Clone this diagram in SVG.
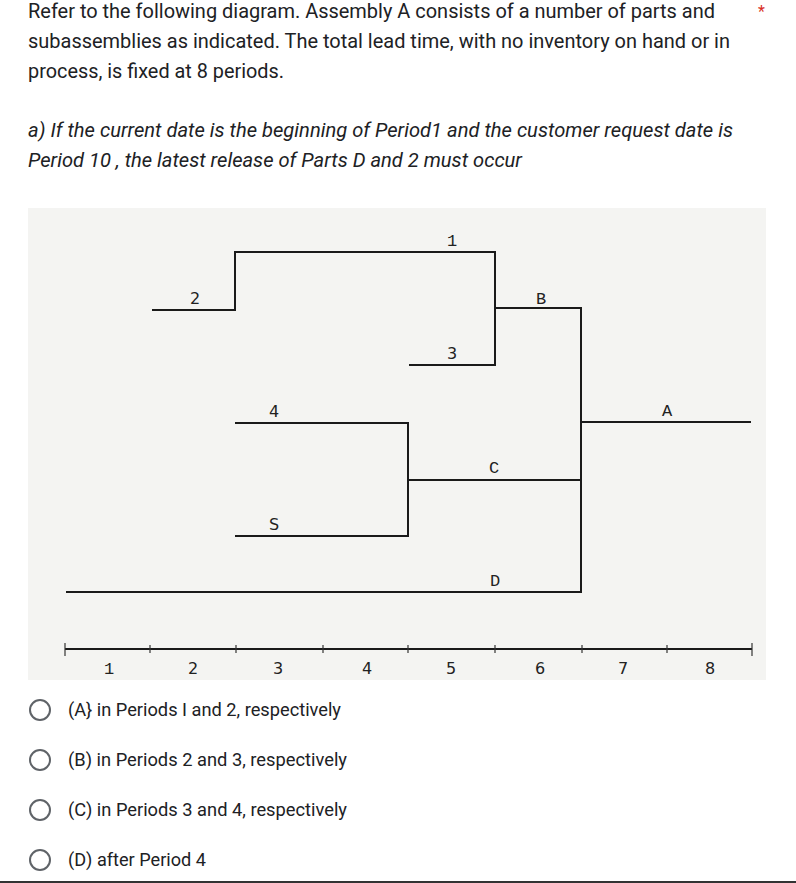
<svg xmlns="http://www.w3.org/2000/svg" width="796" height="883" viewBox="0 0 796 883">
<style>
.t{font-family:Roboto,"Liberation Sans",sans-serif;font-size:20px;fill:#202124}
.q{font-family:Roboto,"Liberation Sans",sans-serif;font-size:20px;font-style:italic;fill:#202124}
.o{font-family:Roboto,"Liberation Sans",sans-serif;font-size:18px;fill:#202124}
.ln{stroke:#1a1a1a;stroke-width:2;fill:none}
.lb{font-family:"DejaVu Sans","Liberation Sans",sans-serif;font-size:16px;fill:#222;text-anchor:middle}
.lm{font-family:"Liberation Mono","DejaVu Sans Mono",monospace;font-size:17px;fill:#222;text-anchor:middle}
.rad{fill:none;stroke:#5f6368;stroke-width:2}
</style>
<rect width="796" height="883" fill="#ffffff"/>
<text class="t" x="28" y="18" textLength="687" lengthAdjust="spacingAndGlyphs">Refer to the following diagram. Assembly A consists of a number of parts and</text>
<text class="t" x="28" y="48" textLength="702" lengthAdjust="spacingAndGlyphs">subassemblies as indicated. The total lead time, with no inventory on hand or in</text>
<text class="t" x="28" y="78" textLength="256" lengthAdjust="spacingAndGlyphs">process, is fixed at 8 periods.</text>
<text x="758" y="17" style="font-family:Roboto,sans-serif;font-size:16px;fill:#d93025">*</text>
<text class="q" x="28" y="137" textLength="705" lengthAdjust="spacingAndGlyphs">a) If the current date is the beginning of Period1 and the customer request date is</text>
<text class="q" x="28" y="167" textLength="494" lengthAdjust="spacingAndGlyphs">Period 10 , the latest release of Parts D and 2 must occur</text>
<rect x="28" y="208" width="738" height="472" fill="#f4f4f2"/>
<g id="connectors">
<polyline class="ln" points="152,310 235,310 235,252 495,252 495,365 409,365"/>
<polyline class="ln" points="495,308 581,308 581,592 66,592"/>
<line class="ln" x1="581" y1="422" x2="751" y2="422"/>
<polyline class="ln" points="235,423 408,423 408,536 235,536"/>
<line class="ln" x1="408" y1="480" x2="581" y2="480"/>
</g>
<g id="part-2"><text class="lb" x="195" y="304">2</text></g>
<g id="part-1"><text class="lm" x="452" y="246">1</text></g>
<g id="part-3"><text class="lb" x="452" y="359">3</text></g>
<g id="sub-B"><text class="lm" x="541" y="304">B</text></g>
<g id="assembly-A"><text class="lm" x="667" y="416">A</text></g>
<g id="part-4"><text class="lb" x="274" y="417">4</text></g>
<g id="part-5"><text class="lb" x="274" y="530">S</text></g>
<g id="sub-C"><text class="lm" x="494" y="473">C</text></g>
<g id="part-D"><text class="lm" x="495" y="586">D</text></g>
<g id="timeline">
<line class="ln" x1="65" y1="649" x2="752" y2="649"/>
<g stroke="#333" stroke-width="1.2">
<line x1="65" y1="643" x2="65" y2="656"/>
<line x1="150" y1="645" x2="150" y2="653"/>
<line x1="236" y1="645" x2="236" y2="653"/>
<line x1="323" y1="645" x2="323" y2="653"/>
<line x1="408" y1="645" x2="408" y2="653"/>
<line x1="495" y1="645" x2="495" y2="653"/>
<line x1="582" y1="645" x2="582" y2="653"/>
<line x1="667" y1="645" x2="667" y2="653"/>
<line x1="752" y1="643" x2="752" y2="656"/>
</g>
<text class="lm" x="109" y="674">1</text>
<text class="lb" x="193" y="674">2</text>
<text class="lb" x="278" y="674">3</text>
<text class="lb" x="367" y="674">4</text>
<text class="lb" x="451" y="674">5</text>
<text class="lb" x="540" y="674">6</text>
<text class="lb" x="623" y="674">7</text>
<text class="lb" x="710" y="674">8</text>
</g>
<g id="options">
<circle class="rad" cx="40" cy="710" r="10"/>
<text class="o" x="68" y="716" textLength="273" lengthAdjust="spacingAndGlyphs">(A} in Periods I and 2, respectively</text>
<circle class="rad" cx="40" cy="760" r="10"/>
<text class="o" x="68" y="766" textLength="279" lengthAdjust="spacingAndGlyphs">(B) in Periods 2 and 3, respectively</text>
<circle class="rad" cx="40" cy="810" r="10"/>
<text class="o" x="68" y="816" textLength="279" lengthAdjust="spacingAndGlyphs">(C) in Periods 3 and 4, respectively</text>
<circle class="rad" cx="40" cy="860" r="10"/>
<text class="o" x="68" y="866" textLength="138" lengthAdjust="spacingAndGlyphs">(D) after Period 4</text>
</g>
<line x1="0" y1="882" x2="796" y2="882" stroke="#333" stroke-width="2"/>
</svg>
